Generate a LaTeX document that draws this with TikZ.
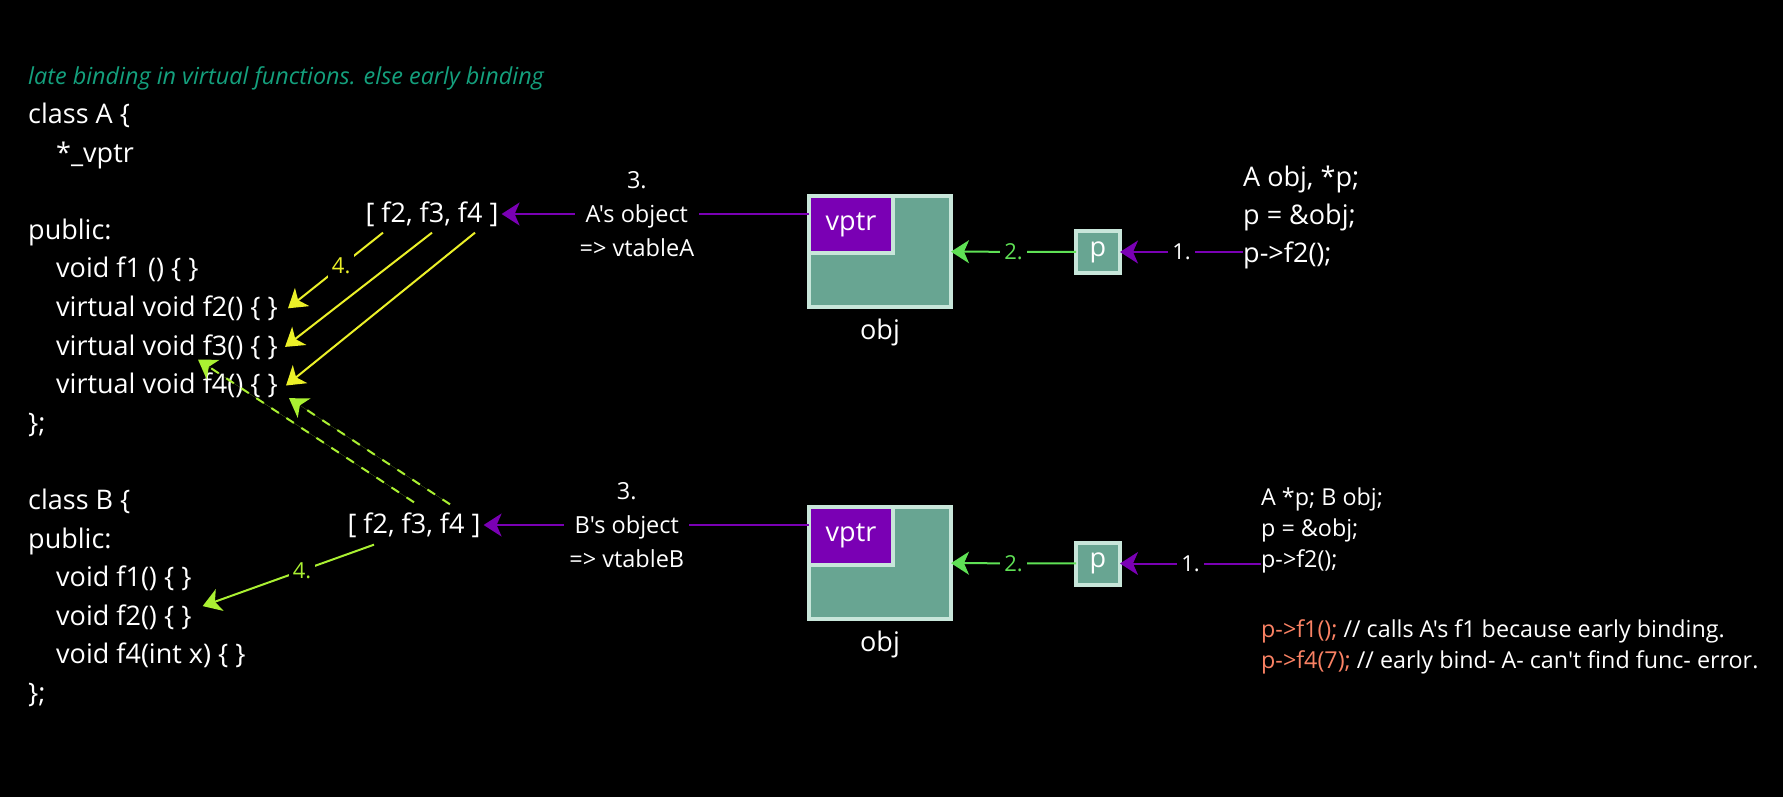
\documentclass[tikz,border=0pt]{standalone}
\usepackage{fontspec}
\setmainfont{Open Sans}[Ligatures=TeXOff]
\usetikzlibrary{arrows.meta,positioning}

\definecolor{vpurple}{RGB}{122,0,180}
\definecolor{boxfill}{RGB}{104,165,146}
\definecolor{boxline}{RGB}{200,230,218}
\definecolor{ptrgreen}{RGB}{95,225,85}
\definecolor{fyellow}{RGB}{235,240,40}
\definecolor{flime}{RGB}{170,240,50}
\definecolor{noteteal}{RGB}{20,160,125}
\definecolor{salmon}{RGB}{250,130,100}

\begin{document}
\begin{tikzpicture}[x=1pt, y=-1pt,
    code/.style={anchor=base west, inner sep=0pt, text=white, font=\fontsize{27}{32}\selectfont},
    smallcode/.style={anchor=base west, inner sep=0pt, text=white, font=\fontsize{23.3}{28}\selectfont},
    vtable/.style={inner sep=3pt, text=white, font=\fontsize{27}{30}\selectfont},
    lbl/.style={fill=black, text=white, inner sep=5pt, align=center, font=\fontsize{23.5}{34}\selectfont},
    steplbl/.style={lbl, inner sep=4pt, font=\fontsize{22}{26}\selectfont},
    membox/.style={draw=boxline, line width=4pt, fill=boxfill, outer sep=0pt, inner sep=0pt, text=white, font=\fontsize{27}{32}\selectfont},
    headed/.style={-{Stealth[length=18pt, width=23pt, inset=5pt]}},
    parrow/.style={headed, draw=vpurple, fill=vpurple, line width=2pt},
    garrow/.style={headed, draw=ptrgreen, fill=ptrgreen, line width=2pt},
    yarrow/.style={headed, draw=fyellow, fill=fyellow, line width=2pt},
    larrow/.style={headed, draw=flime, fill=flime, line width=2pt},
    dasharrow/.style={larrow, dash pattern=on 9pt off 9pt}]

    \useasboundingbox (0,0) rectangle (1783,797);
    \fill[black] (0,0) rectangle (1783,797);

    % note and class A
    \node[anchor=base west, inner sep=0pt, text=noteteal, font=\fontsize{23.4}{27}\selectfont\itshape] (note) at (28,85) {late binding in virtual functions. else early binding};
    \node[code] (clsA) at (28,123.5) {class A \{};
    \node[code] (vptrA) at (56,162.1) {*\_vptr};
    \node[code] (pubA) at (28,239.3) {public:};
    \node[code] (f1A) at (56,277.9) {void f1 () \{ \}};
    \node[code] (f2A) at (56,316.5) {virtual void f2() \{ \}};
    \node[code] (f3A) at (56,355.1) {virtual void f3() \{ \}};
    \node[code] (f4A) at (56,393.7) {virtual void f4() \{ \}};
    \node[code] (endA) at (28,432.3) {\};};

    % class B
    \node[code] (clsB) at (28,509.5) {class B \{};
    \node[code] (pubB) at (28,548.1) {public:};
    \node[code] (f1B) at (56,586.7) {void f1() \{ \}};
    \node[code] (f2B) at (56,625.3) {void f2() \{ \}};
    \node[code] (f4B) at (56,663.9) {void f4(int x) \{ \}};
    \node[code] (endB) at (28,702.5) {\};};

    % vtables
    \node[vtable] (vtA) at (432,214) {[ f2, f3, f4 ]};
    \node[vtable] (vtB) at (414,525) {[ f2, f3, f4 ]};

    % objects and pointers
    \node[membox, minimum width=142pt, minimum height=111pt] (objA) at (880,251.5) {};
    \node[membox, fill=vpurple, minimum width=84pt, minimum height=57pt, anchor=north west] (vpA) at (objA.north west) {vptr};
    \node[below=12pt of objA, inner sep=0pt, text=white, font=\fontsize{27}{32}\selectfont] (nameA) {obj};
    \node[membox, minimum width=44pt, minimum height=42pt] (pA) at (1098,252) {p};

    \node[membox, minimum width=142pt, minimum height=112pt] (objB) at (880,563) {};
    \node[membox, fill=vpurple, minimum width=84pt, minimum height=58pt, anchor=north west] (vpB) at (objB.north west) {vptr};
    \node[below=12pt of objB, inner sep=0pt, text=white, font=\fontsize{27}{32}\selectfont] (nameB) {obj};
    \node[membox, minimum width=44pt, minimum height=42pt] (pB) at (1098,563.5) {p};

    % calling code
    \node[code] (declA) at (1243,186) {A obj, *p;};
    \node[code] (asgA) at (1243,224) {p = \&obj;};
    \node[code] (callA) at (1243,262) {p->f2();};

    \node[smallcode] (declB) at (1261,505) {A *p; B obj;};
    \node[smallcode] (asgB) at (1261,536) {p = \&obj;};
    \node[smallcode] (callB) at (1261,567) {p->f2();};
    \node[smallcode] (noteF1) at (1261,637) {\textcolor{salmon}{p->f1();} // calls A's f1 because early binding.};
    \node[smallcode] (noteF4) at (1261,668) {\textcolor{salmon}{p->f4(7);} // early bind- A- can't find func- error.};

    % steps 1 to 3
    \draw[parrow] (pA.east -| callA.west) -- node[steplbl] {1.} (pA.east);
    \draw[garrow] (pA) -- node[steplbl, text=ptrgreen] {2.} (objA);
    \draw[parrow] (vtA.east -| vpA.west) -- node[lbl, pos=0.56] {3.\\A's object\\=> vtableA} (vtA.east);

    \draw[parrow] (pB.east -| callB.west) -- node[steplbl] {1.} (pB.east);
    \draw[garrow] (pB) -- node[steplbl, text=ptrgreen] {2.} (objB);
    \draw[parrow] (vtB.east -| vpB.west) -- node[lbl, pos=0.56] {3.\\B's object\\=> vtableB} (vtB.east);

    % step 4
    \draw[yarrow] ([xshift=-49pt, yshift=-3pt]vtA.south) -- node[steplbl, pos=0.44, text=fyellow] {4.} ([xshift=10pt]f2A.east);
    \draw[yarrow] ([yshift=-3pt]vtA.south) -- ([xshift=7pt]f3A.east);
    \draw[yarrow] ([xshift=43pt, yshift=-3pt]vtA.south) -- ([xshift=8pt]f4A.east);

    \draw[larrow] ([xshift=-40pt, yshift=-4pt]vtB.south) -- node[steplbl, pos=0.42, text=flime] {4.} ([xshift=11pt, yshift=11pt]f2B.east);
    \draw[dasharrow] ([yshift=7pt]vtB.north) -- ([xshift=142pt]f3A.south west);
    \draw[dasharrow] ([xshift=36pt, yshift=5pt]vtB.north) -- ([xshift=11pt]f4A.south east);
\end{tikzpicture}
\end{document}
